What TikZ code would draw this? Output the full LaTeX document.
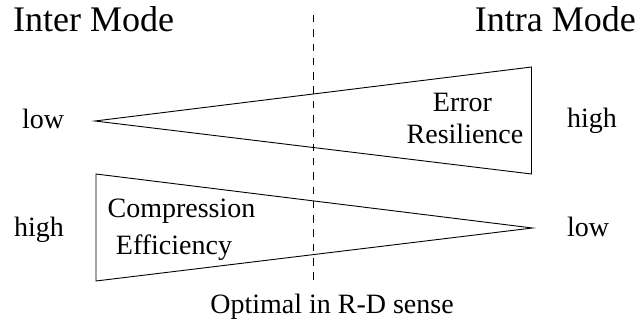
\documentclass[tikz,border=0pt]{standalone}
\usepackage{fontspec}
\setmainfont{Liberation Serif}
\begin{document}
\begin{tikzpicture}[x=1pt,y=-1pt,
  big/.style={inner sep=0pt,font=\fontsize{36}{40}\selectfont},
  lbl/.style={inner sep=0pt,font=\fontsize{28}{32}\selectfont},
  wedge/.style={draw=black,line width=0.9pt,line join=miter},
  divider/.style={draw=black,line width=0.9pt,dash pattern=on 7.5pt off 6.8pt}]
\useasboundingbox (0,0) rectangle (641,326);

% mode headings
\node[big,anchor=base west] (inter) at (13,32) {Inter Mode};
\node[big,anchor=base east] (intra) at (636,32) {Intra Mode};

% dashed separator
\coordinate (dtop) at (313.3,15);
\coordinate (dbot) at (313.3,282);
\draw[divider] (dtop) -- (dbot);

% error resilience wedge: grows from left to right
\coordinate (eA) at (95,121);
\coordinate (eT) at (531.5,67);
\coordinate (eB) at (531.5,174);
\draw[wedge] (eA) -- (eT) -- (eB) -- cycle;

% compression efficiency wedge: shrinks from left to right
\coordinate (cT) at (96,174);
\coordinate (cB) at (96,281);
\coordinate (cA) at (532.5,228);
\draw[wedge] (cT) -- (cA) -- (cB) -- cycle;

% wedge captions
\node[lbl,anchor=base] (err) at (462.5,112) {Error};
\node[lbl,anchor=base] (res) at (465,144) {Resilience};
\node[lbl,anchor=base] (comp) at (181.5,218) {Compression};
\node[lbl,anchor=base] (eff) at (174,255) {Efficiency};

% level labels
\node[lbl,anchor=base west] (lowL) at (22,129) {low};
\node[lbl,anchor=base west] (highR) at (567,128) {high};
\node[lbl,anchor=base west] (highL) at (14,237) {high};
\node[lbl,anchor=base west] (lowR) at (567,237) {low};

% optimum caption
\node[lbl,anchor=base] (opt) at (332,313) {Optimal in R-D sense};
\end{tikzpicture}
\end{document}
